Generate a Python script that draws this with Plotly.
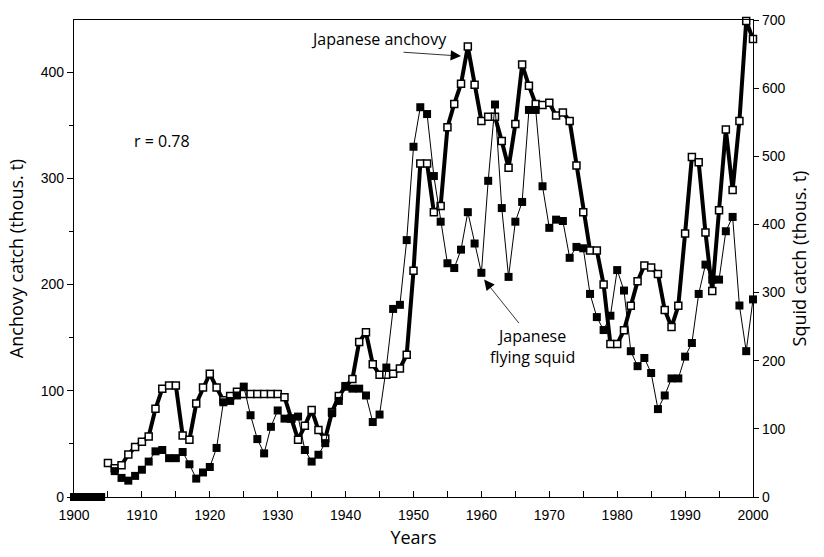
import plotly.graph_objects as go

anchovy_years = list(range(1905, 2001))
anchovy = [32, 27, 30, 40, 47, 52, 57, 83, 102, 105,
           105, 58, 54, 88, 103, 116, 103, 91, 95, 99,
           97, 97, 97, 97, 97, 97, 94, 74, 54, 67,
           82, 63, 55, 80, 95, 104, 111, 146, 155, 125,
           115, 115, 116, 121, 134, 213, 314, 314, 268, 274,
           348, 370, 389, 424, 388, 354, 358, 358, 335, 310,
           351, 407, 387, 370, 369, 371, 359, 362, 354, 312,
           268, 232, 232, 200, 144, 144, 157, 180, 203, 218,
           216, 210, 176, 160, 180, 248, 320, 315, 249, 194,
           270, 346, 289, 354, 448, 431]

squid_years = [1900, 1901, 1902, 1903, 1904, 1905] + list(range(1906, 2001))
squid = [0, 0, 0, 0, 0, None,
         38, 28, 24, 31, 40, 52, 67, 69, 57, 57,
         66, 48, 27, 36, 44, 72, 139, 141, 149, 162,
         120, 85, 64, 103, 127, 115, 115, 118, 69, 52,
         62, 79, 123, 141, 163, 159, 159, 149, 110, 121,
         190, 276, 282, 377, 514, 572, 562, 471, 404, 343,
         336, 363, 418, 372, 329, 464, 576, 424, 323, 404,
         433, 568, 568, 456, 395, 407, 405, 351, 367, 365,
         298, 264, 245, 266, 333, 303, 214, 192, 204, 182,
         129, 149, 174, 174, 206, 226, 298, 341, 319, 319,
         390, 411, 281, 214, 290]

x_ticks = list(range(1900, 2001, 10))
left_ticks = [0, 100, 200, 300, 400]
right_ticks = [0, 100, 200, 300, 400, 500, 600, 700]

TICKFONT = dict(family="Liberation Sans Narrow, Liberation Sans, Arial", size=14, color="black")
TITLEFONT = dict(family="Open Sans, Noto Sans, sans-serif", size=18, color="black")
NOTEFONT = dict(family="Open Sans, Noto Sans, sans-serif", size=16, color="black")

fig = go.Figure()

fig.add_trace(go.Scatter(
    x=anchovy_years, y=anchovy, yaxis="y", mode="lines+markers",
    line=dict(color="black", width=4),
    marker=dict(symbol="square", size=7, color="white", line=dict(color="black", width=1.5)),
    cliponaxis=False, showlegend=False, name="Japanese anchovy"))

fig.add_trace(go.Scatter(
    x=squid_years, y=squid, yaxis="y2", mode="lines+markers",
    line=dict(color="black", width=1),
    marker=dict(symbol="square", size=8, color="black"),
    connectgaps=False, cliponaxis=False, showlegend=False, name="Japanese flying squid"))

fig.update_layout(
    width=824, height=557,
    margin=dict(l=74, r=71, t=17, b=54),
    plot_bgcolor="white", paper_bgcolor="white",
    xaxis=dict(range=[1900, 2000], tickvals=x_ticks, ticks="inside", ticklen=6,
               tickcolor="black", showline=True, linecolor="black", linewidth=1.2,
               mirror=True, showgrid=False, zeroline=False, tickfont=TICKFONT,
               ticklabelstandoff=5,
               minor=dict(dtick=5, ticks="inside", ticklen=6, tickcolor="black"),
               title=dict(text="Years", font=TITLEFONT, standoff=9)),
    yaxis=dict(range=[0, 449], tickvals=left_ticks, ticks="outside", ticklen=6,
               tickcolor="black", showline=True, linecolor="black", linewidth=1.2,
               showgrid=False, zeroline=False, tickfont=TICKFONT,
               minor=dict(dtick=50, ticks="outside", ticklen=4, tickcolor="black"),
               title=dict(text="Anchovy catch (thous. t)", font=TITLEFONT, standoff=12)),
    yaxis2=dict(range=[0, 700], tickvals=right_ticks, ticks="outside", ticklen=5,
                tickcolor="black", showline=True, linecolor="black", linewidth=1.2,
                overlaying="y", side="right", showgrid=False, zeroline=False,
                tickfont=TICKFONT,
                title=dict(text="Squid catch (thous. t)", font=TITLEFONT, standoff=8)),
    annotations=[
        dict(text="Japanese anchovy", xref="paper", yref="paper", x=0.449, y=0.961,
             xanchor="center", yanchor="middle", showarrow=False, font=NOTEFONT),
        dict(text="", x=1957.0, y=415, xref="x", yref="y", showarrow=True,
             ax=-59, ay=-4, arrowhead=2, arrowsize=2.6, arrowwidth=0.8, arrowcolor="black"),
        dict(text="Japanese<br>flying squid", xref="paper", yref="paper", x=0.675, y=0.315,
             xanchor="center", yanchor="middle", showarrow=False, align="center",
             font=NOTEFONT),
        dict(text="", x=1960.4, y=319, xref="x", yref="y2", showarrow=True,
             ax=36, ay=45, arrowhead=2, arrowsize=2.6, arrowwidth=0.8, arrowcolor="black"),
        dict(text="r = 0.78", xref="paper", yref="paper", x=0.13, y=0.747,
             xanchor="center", yanchor="middle", showarrow=False, font=NOTEFONT),
    ],
)

fig.write_html("out.html", config={"displayModeBar": False},
               post_script="document.body.style.margin='0px';")
